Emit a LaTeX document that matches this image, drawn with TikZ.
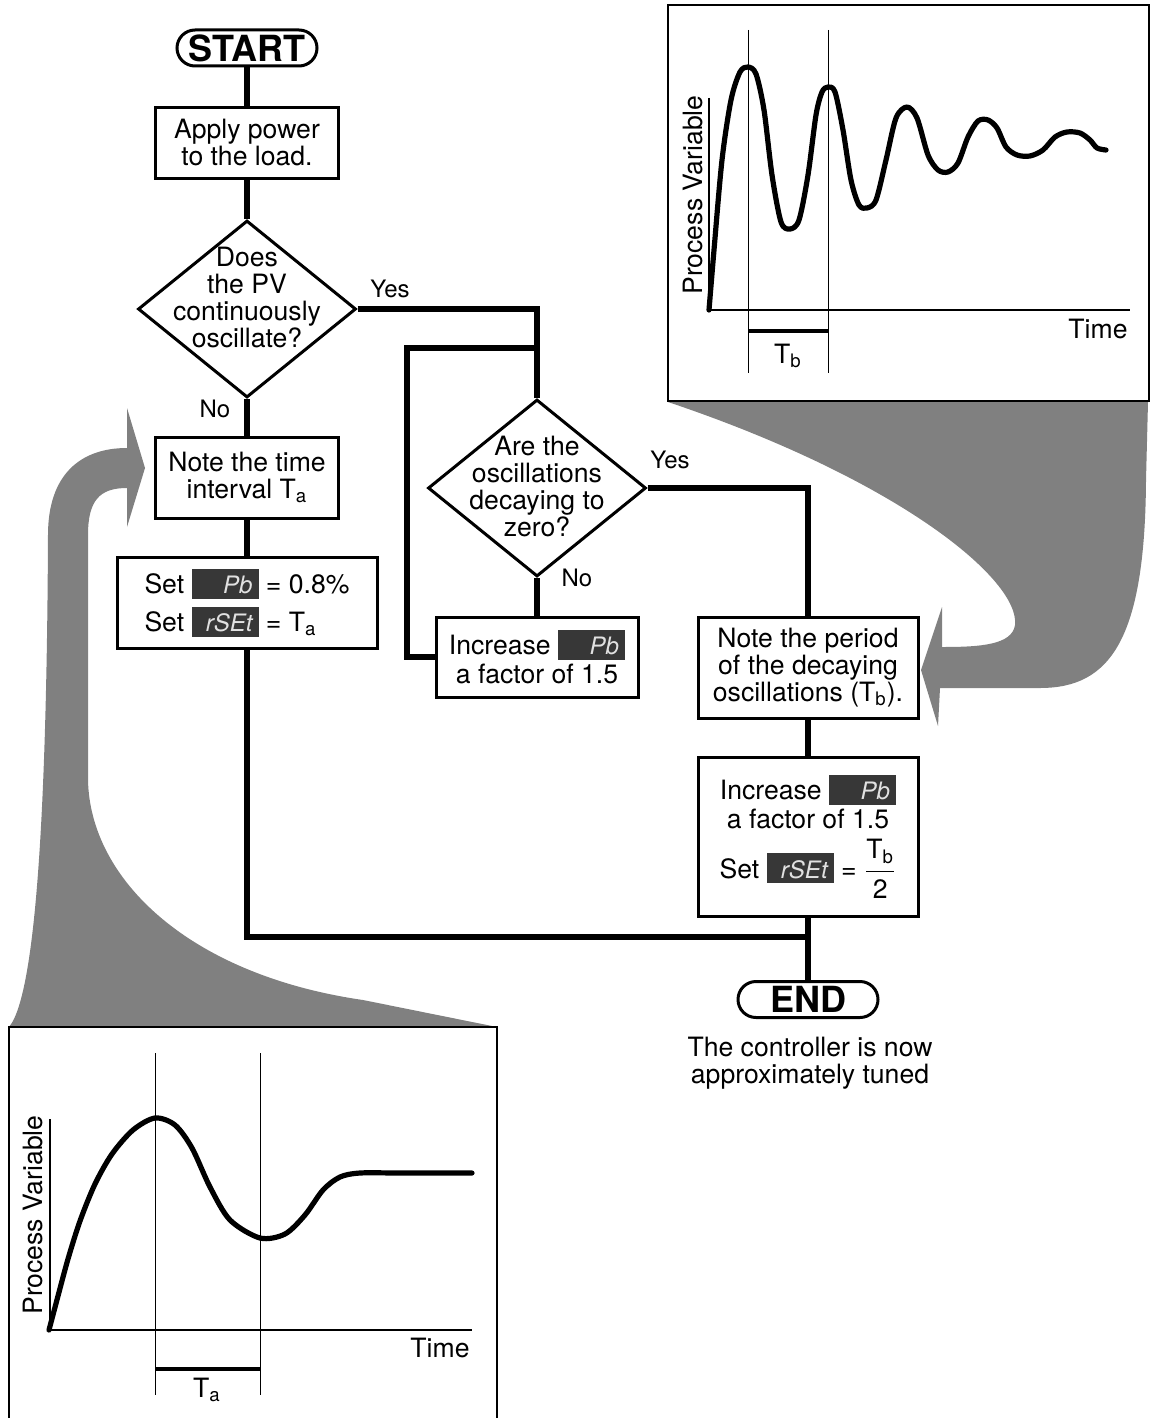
\documentclass[tikz,border=0pt]{standalone}
\usepackage{fontspec}
\setmainfont{TeX Gyre Heros}
\usetikzlibrary{shapes.geometric, positioning, calc}
\definecolor{arrowgray}{RGB}{128,128,128}
\definecolor{dispgray}{RGB}{55,55,55}
\definecolor{dispseg}{RGB}{225,225,225}
% controller display readout
\newcommand{\disp}[1]{{\setlength{\fboxsep}{0pt}\raisebox{-2.5pt}{\colorbox{dispgray}{\makebox[33.5pt][r]{\rule{0pt}{15pt}\raisebox{2.5pt}{\fontsize{12}{12}\selectfont\color{dispseg}\itshape #1}\hspace{3pt}}}}}}

\begin{document}
\begin{tikzpicture}[x=0.5pt, y=-0.5pt,
  txt/.style={font=\fontsize{13.3}{13.5}\selectfont},
  stepbox/.style={draw, line width=1.5pt, txt, align=center, inner sep=0pt},
  decision/.style={draw, diamond, line width=1.5pt, inner sep=0pt, minimum width=109pt, minimum height=88.5pt},
  terminal/.style={draw, rounded corners=9pt, line width=1.5pt, minimum width=70pt, minimum height=18pt, inner sep=0pt, font=\fontsize{18}{18}\selectfont\bfseries},
  flow/.style={line width=3.3pt},
  answer/.style={font=\fontsize{12}{13}\selectfont},
  axis/.style={line width=0.8pt},
  marker/.style={line width=0.5pt},
  trace/.style={line width=2.6pt, line cap=round, line join=round}]
  \useasboundingbox (0,0) rectangle (1150,1418);

  % Callout arrows
  \fill[arrowgray] (668,402) .. controls (900,480) and (1020,580) .. (1015,625)
    .. controls (1012,645) and (980,647) .. (942,647) -- (942,607) -- (921,670)
    -- (938,726) -- (940,688) -- (1040,688) .. controls (1110,688) and (1145,640) .. (1146,480)
    -- (1148,402) -- cycle;
  \fill[arrowgray] (9,1027) .. controls (40,990) and (47,750) .. (48,535)
    .. controls (48,475) and (80,448) .. (127,448) -- (127,408) -- (145,468) -- (127,527)
    -- (127,488) .. controls (100,488) and (88,500) .. (88,535) -- (88,780)
    .. controls (90,880) and (190,975) .. (363,1000) -- (497,1027) -- cycle;

  % Left column
  \node[terminal] (start) at (247,48) {START};
  \node[stepbox, minimum width=91.5pt, minimum height=35pt] (apply) at (247,143) {Apply power\\to the load.};
  \node[decision] (q1) at (247,309) {};
  \node[txt, align=center] (q1txt) at (247,298) {Does\\the PV\\continuously\\oscillate?};
  \node[stepbox, minimum width=91.5pt, minimum height=40.5pt] (note_a) at (247,477.5) {Note the time\\interval T\textsubscript{a}};
  \node[stepbox, align=left, minimum width=130pt, minimum height=45.5pt] (set_a) at (247,602.5) {Set \disp{Pb} = 0.8\%\\[3pt]Set \disp{rSEt} = T\textsubscript{a}};

  % Middle column
  \node[decision] (q2) at (537,488) {};
  \node[txt, align=center] (q2txt) at (537,486) {Are the\\oscillations\\decaying to\\zero?};
  \node[stepbox, minimum width=101pt, minimum height=40pt] (incr_a) at (537,657) {Increase \disp{Pb}\\[1pt]a factor of 1.5};

  % Right column
  \node[stepbox, minimum width=110pt, minimum height=50.5pt] (note_b) at (808,667.5) {Note the period\\of the decaying\\oscillations (T\textsubscript{b}).};
  \node[stepbox, minimum width=110pt, minimum height=79.5pt] (incr_b) at (808,836.5) {Increase \disp{Pb}\\[1pt]a factor of 1.5\\[4pt]Set \disp{rSEt} = $\displaystyle\frac{\mbox{T\textsubscript{b}}}{\mbox{2}}$};
  \node[terminal] (end) at (808,999.5) {END};
  \node[txt, align=center] (tuned) at (810,1063) {The controller is now\\approximately tuned};

  % Answers
  \node[answer] (yes1) at (390,289) {Yes};
  \node[answer] (no1) at (215,409) {No};
  \node[answer] (yes2) at (670,460) {Yes};
  \node[answer] (no2) at (577,578) {No};

  % Connectors
  \coordinate (join) at (808,937);
  \coordinate (loopc) at (407,348);
  \coordinate (merge) at (537,348);
  \draw[flow] (start) -- (apply);
  \draw[flow] (apply) -- (q1);
  \draw[flow] (q1) -- (note_a);
  \draw[flow] (note_a) -- (set_a);
  \draw[flow] (set_a.south) |- (join);
  \draw[flow] (q1.east) -| (q2.north);
  \draw[flow] (q2) -- (incr_a);
  \draw[flow] (incr_a.west) -| (loopc) -- (merge);
  \draw[flow] (q2.east) -| (note_b.north);
  \draw[flow] (note_b) -- (incr_b);
  \draw[flow] (incr_b) -- (end);

  % Decaying response
  \draw[line width=1pt] (668,5) rectangle (1149,401);
  \draw[axis] (709,98) -- (709,310) -- (1130,310);
  \draw[marker] (748,30) -- (748,373);
  \draw[marker] (828,30) -- (828,373);
  \draw[line width=1.6pt] (748,331) -- (828,331);
  \node[txt] (tb) at (788,356) {T\textsubscript{b}};
  \node[txt] (time_b) at (1098,329) {Time};
  \node[txt, rotate=90] (pv_b) at (693,195) {Process Variable};
  \draw[trace] plot[smooth] coordinates {(709,310) (714,250) (722,160) (731,100) (740,72)
    (748,67) (756,74) (764,110) (772,175) (781,222) (790,229) (799,220) (808,175)
    (816,115) (822,92) (828,87) (835,92) (843,130) (851,180) (859,205) (867,208)
    (876,200) (886,160) (896,118) (907,107) (917,118) (928,155) (938,170) (948,172)
    (958,163) (968,137) (978,121) (988,120) (997,128) (1006,147) (1017,155) (1030,156)
    (1043,150) (1055,137) (1067,132) (1080,133) (1090,140) (1097,148) (1106,150)};

  % Oscillating response
  \draw[line width=1pt] (9,1027) rectangle (497,1430);
  \draw[axis] (50,1119) -- (50,1330) -- (472,1330);
  \draw[marker] (155,1053) -- (155,1395);
  \draw[marker] (260,1053) -- (260,1395);
  \draw[line width=1.6pt] (155,1369) -- (260,1369);
  \node[txt] (ta) at (207,1390) {T\textsubscript{a}};
  \node[txt] (time_a) at (440,1348) {Time};
  \node[txt, rotate=90] (pv_a) at (33,1215) {Process Variable};
  \draw[trace] plot[smooth] coordinates {(49,1330) (58,1296) (68,1259) (80,1221)
    (95,1184) (112,1154) (133,1130) (155,1118) (175,1125) (192,1148) (210,1187)
    (230,1220) (260,1238) (285,1234) (305,1215) (323,1190) (340,1177) (360,1173)
    (400,1173) (472,1173)};
\end{tikzpicture}
\end{document}
